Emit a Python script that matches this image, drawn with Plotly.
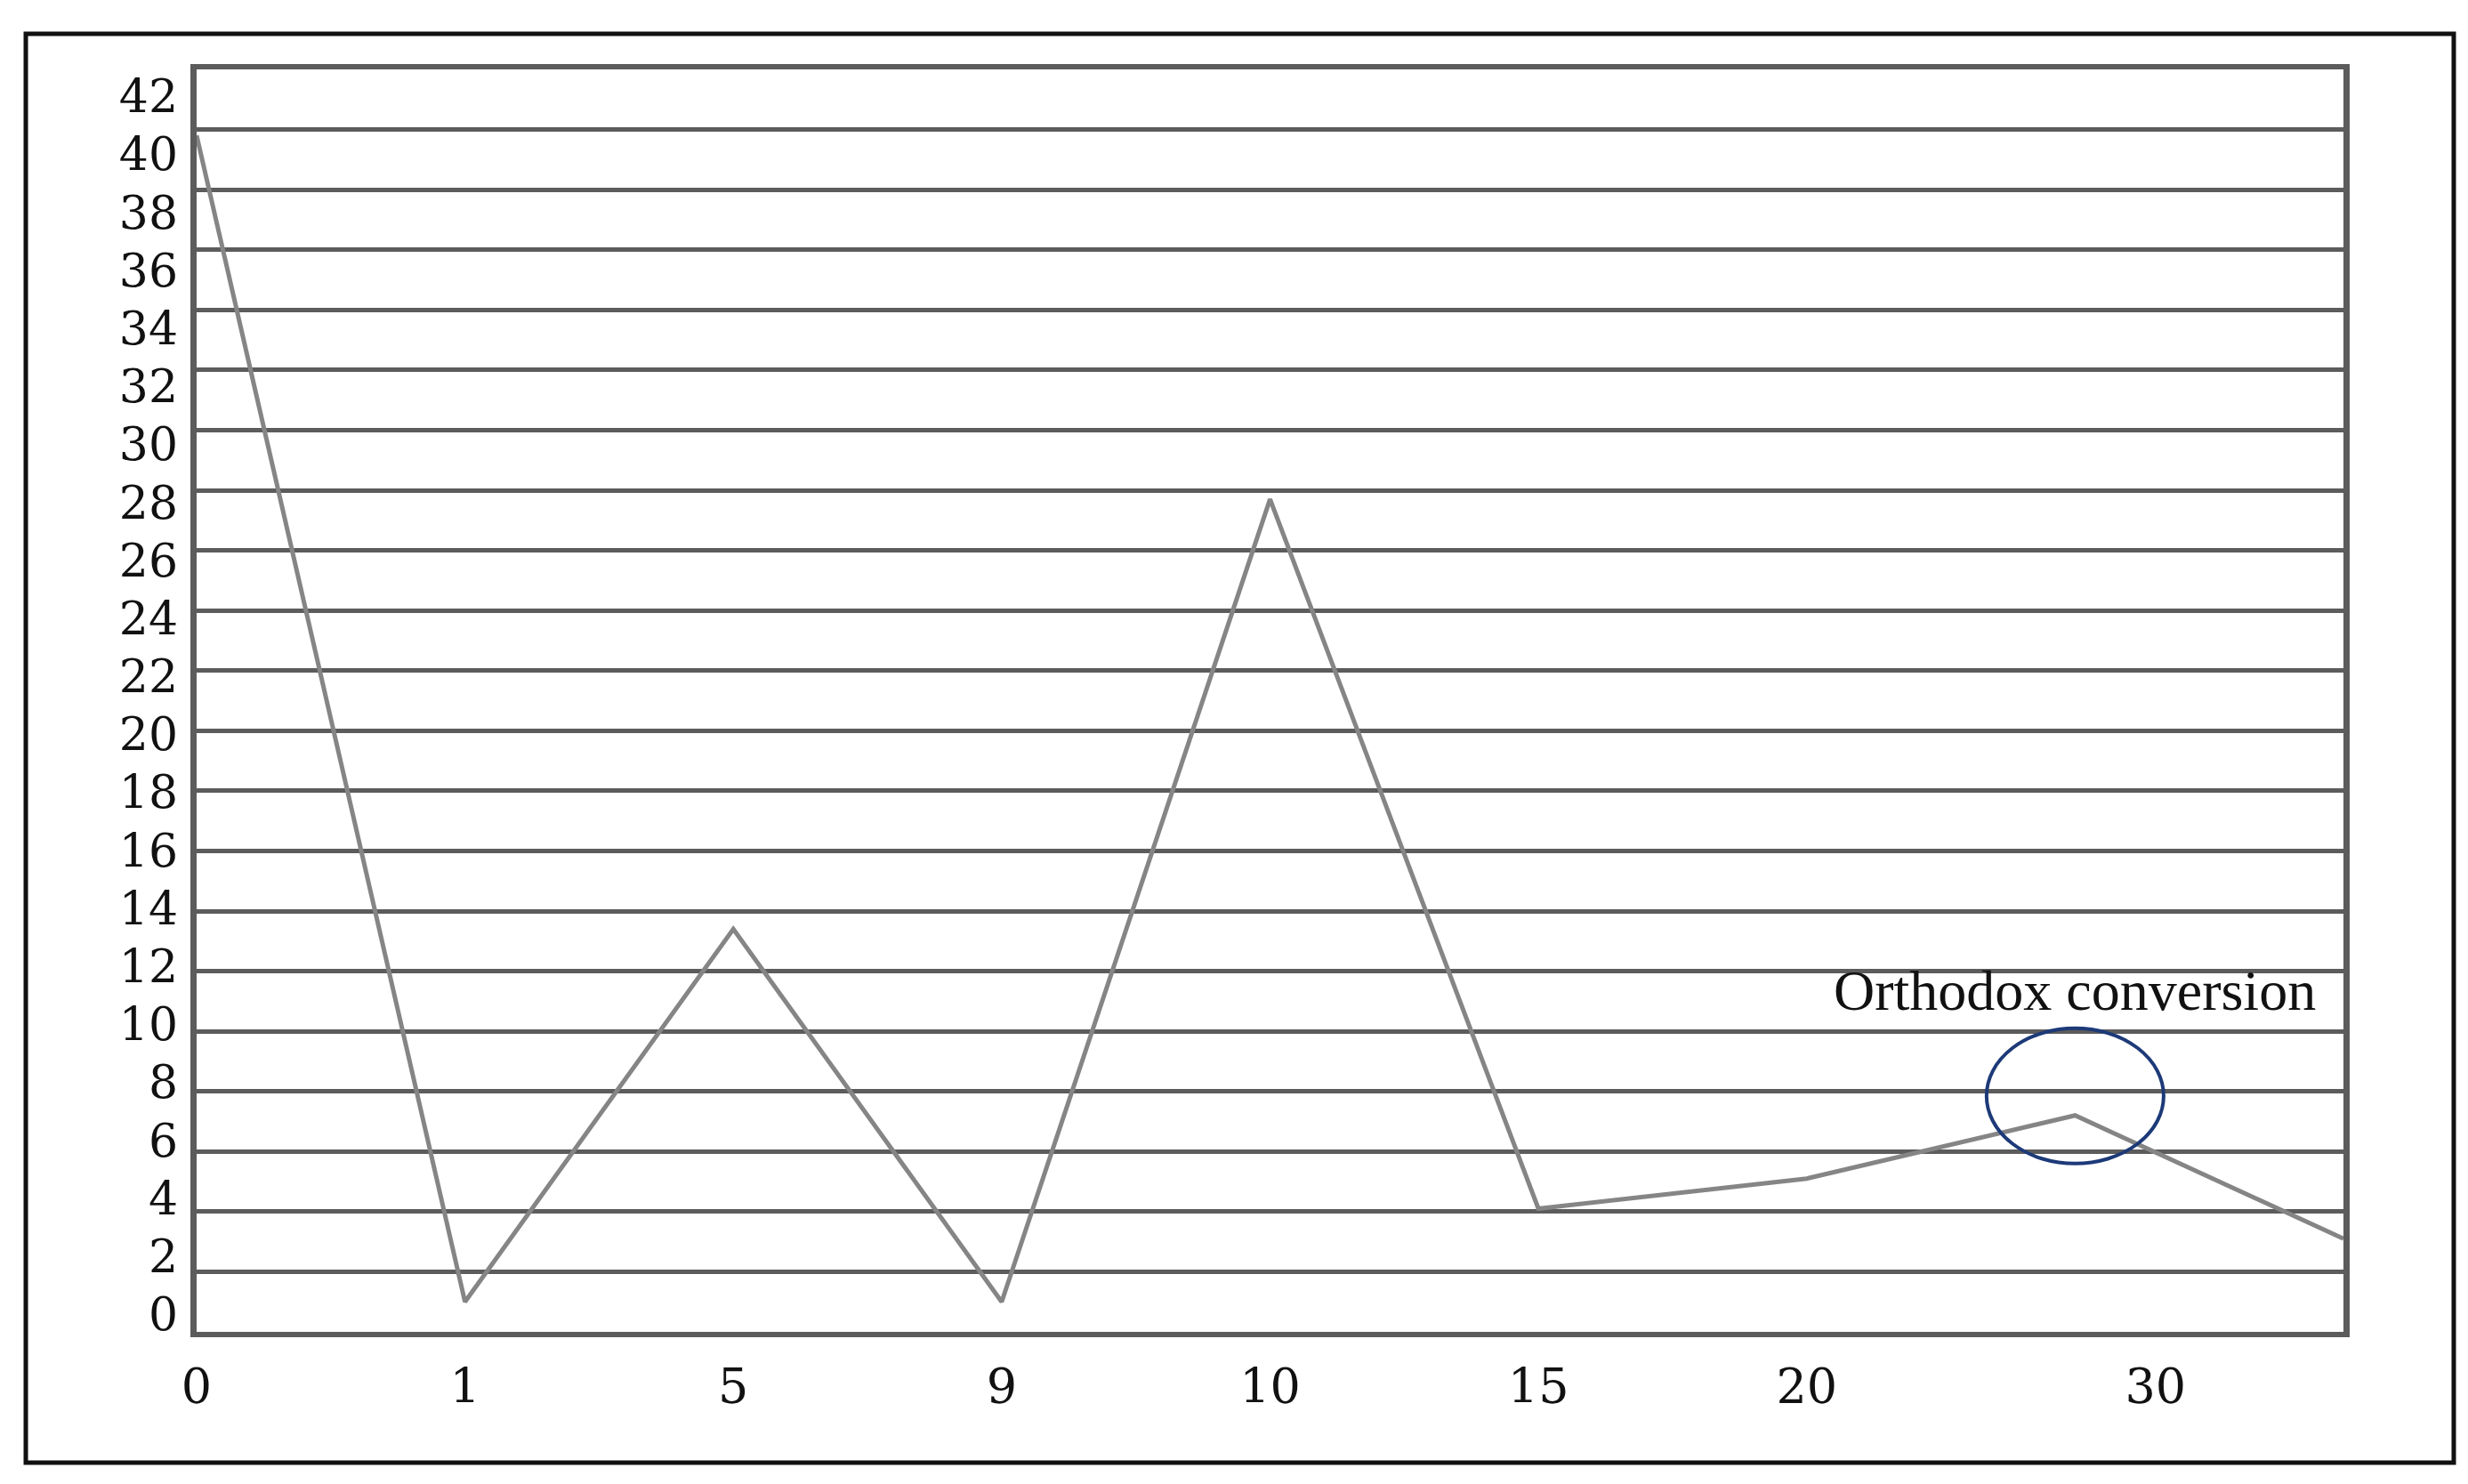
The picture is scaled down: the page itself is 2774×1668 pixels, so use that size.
import plotly.graph_objects as go

# ---- data ----
point_index = [0, 1, 2, 3, 4, 5, 6, 7, 8]
values = [39.8, 1.0, 13.4, 1.0, 27.7, 4.1, 5.1, 7.2, 3.1]

x_tick_labels = ["0", "1", "5", "9", "10", "15", "20", "30"]
x_tick_pos = [0, 1, 2, 3, 4, 5, 6, 7.3]

y_tick_vals = [0, 2, 4, 6, 8, 10, 12, 14, 16, 18, 20, 22, 24, 26, 28, 30, 32, 34, 36, 38, 40, 42]
y_tick_labels = [str(v) for v in y_tick_vals]

annot_text = "Orthodox conversion"
annot_index = 7

# ---- layout geometry (pixels) ----
W, H = 2774, 1668
PL, PR, PT, PB = 213, 2626, 70, 1489
PW, PH = PR - PL, PB - PT

def px_x(p):
    return (p - PL) / PW

def px_y(p):
    return (PB - p) / PH

# label axis: value 0 drawn at y=1469 px, 42 at y=100 px
lab_scale = (1469 - 100) / 42.0
y2_lo = (1469 - PB) / lab_scale
y2_hi = (1469 - PT) / lab_scale

GRID = "#5c5c5c"
FONT = "DejaVu Serif"

fig = go.Figure()
fig.add_trace(go.Scatter(
    x=point_index, y=values, mode="lines",
    line=dict(color="#858585", width=5),
    showlegend=False, hoverinfo="skip",
))
# carrier trace (draws nothing) so the label axis is rendered
fig.add_trace(go.Scatter(
    x=point_index, y=values, yaxis="y2", mode="none",
    showlegend=False, hoverinfo="skip",
))

peak_y = values[annot_index]
fig.add_shape(type="circle", xref="x", yref="y",
              x0=annot_index - 0.33, x1=annot_index + 0.33,
              y0=peak_y + 0.65 - 2.25, y1=peak_y + 0.65 + 2.25,
              line=dict(color="#1d3a78", width=4))
fig.add_annotation(x=annot_index, y=peak_y + 4.15, xref="x", yref="y",
                   text=annot_text, showarrow=False,
                   font=dict(family="Liberation Serif", size=64, color="#111"),
                   xanchor="center", yanchor="middle")

# outer frame
fig.add_shape(type="rect", xref="paper", yref="paper",
              x0=px_x(21), x1=px_x(2750), y0=px_y(1636), y1=px_y(30),
              line=dict(color="#111", width=5), layer="below")

fig.update_layout(
    width=W, height=H,
    margin=dict(l=PL, r=W - PR, t=PT, b=H - PB, pad=0),
    paper_bgcolor="white", plot_bgcolor="white",
    showlegend=False,
    xaxis=dict(range=[0, 8], tickmode="array", tickvals=x_tick_pos, ticktext=x_tick_labels,
               showgrid=False, zeroline=False, ticks="",
               showline=True, mirror=True, linecolor=GRID, linewidth=6,
               tickfont=dict(family=FONT, size=54, color="#111"),
               ticklabelstandoff=9),
    yaxis=dict(range=[0, 42], dtick=2, tick0=0, showgrid=True, gridcolor=GRID, gridwidth=5,
               zeroline=False, showticklabels=False, ticks="",
               showline=True, mirror=True, linecolor=GRID, linewidth=7),
    yaxis2=dict(range=[y2_lo, y2_hi], overlaying="y", side="left", anchor="x",
                tickmode="array", tickvals=y_tick_vals, ticktext=y_tick_labels,
                showgrid=False, zeroline=False, showline=False, ticks="",
                tickfont=dict(family=FONT, size=52, color="#111"),
                ticklabelstandoff=20),
)

fig.write_html("out.html")
